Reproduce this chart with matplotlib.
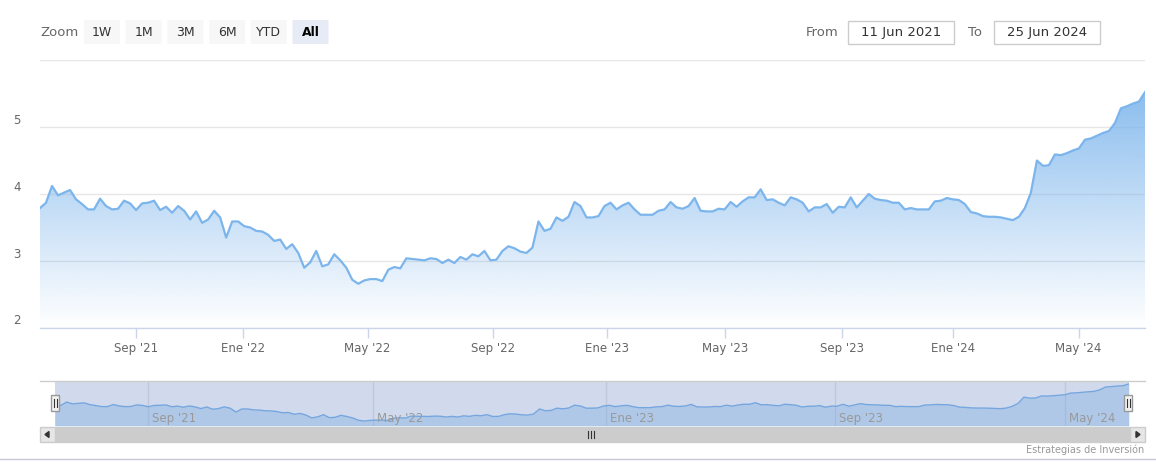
import matplotlib
matplotlib.use("Agg")
import matplotlib.pyplot as plt
import numpy as np
from matplotlib.patches import Rectangle, FancyBboxPatch, Polygon
from matplotlib.lines import Line2D
from matplotlib.transforms import blended_transform_factory, offset_copy

W, H = 1156, 465

# precio, muestras equiespaciadas sobre el eje ordinal (11 Jun 2021 -> 25 Jun 2024)
precio = [
    3.79, 3.87, 4.12, 3.98, 4.02, 4.06, 3.92, 3.85, 3.77, 3.77,
    3.93, 3.82, 3.77, 3.78, 3.90, 3.86, 3.76, 3.86, 3.87, 3.90,
    3.76, 3.81, 3.72, 3.82, 3.75, 3.62, 3.74, 3.57, 3.62, 3.75,
    3.65, 3.35, 3.59, 3.59, 3.52, 3.50, 3.45, 3.44, 3.39,
    3.30, 3.32, 3.18, 3.25, 3.12, 2.90, 2.98, 3.15, 2.92, 2.95,
    3.10, 3.01, 2.90, 2.72, 2.66, 2.71, 2.73, 2.73, 2.70, 2.87,
    2.91, 2.89, 3.04, 3.03, 3.02, 3.01, 3.04, 3.03, 2.97, 3.02,
    2.97, 3.06, 3.02, 3.10, 3.07, 3.15, 3.01,
    3.02, 3.15, 3.22, 3.19, 3.14, 3.12, 3.20, 3.59, 3.45, 3.48,
    3.65, 3.60, 3.66, 3.88, 3.82, 3.65, 3.65, 3.67, 3.82, 3.87,
    3.77, 3.83, 3.87, 3.77, 3.69, 3.69, 3.69, 3.75, 3.77, 3.88,
    3.80, 3.78, 3.82, 3.94, 3.75, 3.74, 3.74,
    3.78, 3.77, 3.88, 3.81, 3.89, 3.95, 3.95, 4.07, 3.91, 3.92,
    3.87, 3.83, 3.95, 3.92, 3.87, 3.74, 3.80, 3.80, 3.85, 3.72,
    3.81, 3.80, 3.95, 3.80, 3.90, 4.00, 3.93, 3.91, 3.90, 3.87,
    3.87, 3.77, 3.79, 3.77, 3.77, 3.77, 3.89, 3.90,
    3.94, 3.92, 3.91, 3.85, 3.73, 3.71, 3.67, 3.66, 3.66, 3.65,
    3.63, 3.61, 3.66, 3.79, 4.02, 4.50, 4.42, 4.43, 4.59, 4.58,
    4.61, 4.65, 4.68, 4.81, 4.83, 4.87, 4.91, 4.94, 5.06, 5.28,
    5.31, 5.35, 5.38, 5.52,
]

# eje ordinal: posición (en muestras) del primer dato de cada mes etiquetado
meses_lbl = ["Sep '21", "Ene '22", "May '22", "Sep '22", "Ene '23",
             "May '23", "Sep '23", "Ene '24", "May '24"]
meses_pos = [16.0, 33.8, 54.55, 75.45, 94.4, 114.05, 133.55, 152.1, 172.95]
nav_lbl = ["Sep '21", "May '22", "Ene '23", "Sep '23", "May '24"]
nav_pos = [16.0, 54.55, 94.4, 133.55, 172.95]
y_ticks = [2, 3, 4, 5, 6]
botones = ["1W", "1M", "3M", "6M", "YTD", "All"]
desde, hasta = "11 Jun 2021", "25 Jun 2024"

BLUE = "#7cb5ec"
GRID = "#e6e6e6"
AXIS = "#ccd6eb"


def fx(x):
    return x / W


def fy(y):
    return 1 - y / H


def rect(x, y, w, h, **kw):
    fig.add_artist(Rectangle((fx(x), fy(y + h)), w / W, h / H,
                             transform=fig.transFigure, **kw))


plt.rcParams["font.family"] = ["DejaVu Sans"]
fig = plt.figure(figsize=(W / 100, H / 100), dpi=100)

x = np.arange(len(precio))
n = len(precio) - 1

# ---- gráfico principal ----
ax = fig.add_axes([fx(40), fy(328), 1105 / W, 268 / H])
ax.set_facecolor("none")
poly = ax.fill_between(x, precio, 2, color="none", lw=0)
rgb = matplotlib.colors.to_rgb(BLUE)
grad = np.zeros((256, 1, 4))
grad[..., :3] = rgb
grad[:, 0, 3] = np.linspace(1, 0, 256)
im = ax.imshow(grad, extent=(0, n, 2, 6), aspect="auto", origin="upper", zorder=1)
im.set_clip_path(poly.get_paths()[0], transform=ax.transData)
ax.plot(x, precio, color=BLUE, lw=1.6, zorder=3, solid_joinstyle="round")
ax.set_xlim(0, n)
ax.set_ylim(2, 6)
ax.set_yticks(y_ticks)
ax.yaxis.grid(True, color=GRID, lw=1)
ax.set_axisbelow(True)
ax.tick_params(axis="y", length=0, labelleft=False)
ax.set_xticks(meses_pos, meses_lbl)
ax.tick_params(axis="x", length=7.2, width=1, color=AXIS, labelcolor="#666666",
               labelsize=8.5, pad=3)
for s in ["top", "left", "right"]:
    ax.spines[s].set_visible(False)
ax.spines["bottom"].set_color(AXIS)
ax.spines["bottom"].set_linewidth(1)
ytr = offset_copy(blended_transform_factory(fig.transFigure, ax.transData),
                  fig=fig, y=7, units="dots")
for v in y_ticks[:-1]:
    ax.text(fx(17), v, str(v), transform=ytr, ha="center", va="center",
            fontsize=8.5, color="#666666")

# ---- navegador ----
nav = fig.add_axes([fx(55), fy(426), 1074 / W, 45 / H])
nav.set_facecolor("none")
lo, hi = min(precio), max(precio)
nav.set_xlim(0, n)
nav.set_ylim(lo - 0.38, hi + 0.22)
for p in nav_pos:
    nav.axvline(p, color=GRID, lw=1, zorder=0)
nav.fill_between(x, precio, lo - 0.38, color=BLUE, alpha=0.35, lw=0, zorder=1)
nav.plot(x, precio, color=BLUE, lw=1, zorder=2)
nav.axvspan(0, n, color=(102 / 255, 133 / 255, 194 / 255, 0.3), lw=0, zorder=3)
nav.set_xticks([])
nav.set_yticks([])
for s in nav.spines.values():
    s.set_visible(False)
ntr = offset_copy(blended_transform_factory(nav.transData, fig.transFigure),
                  fig=fig, x=4, units="dots")
for p, l in zip(nav_pos, nav_lbl):
    nav.text(p, fy(418), l, transform=ntr, ha="left", va="center",
             fontsize=8.5, color="#999999", zorder=5)
fig.add_artist(Line2D([fx(40), fx(1145)], [fy(381), fy(381)], color="#cccccc",
                      lw=1, transform=fig.transFigure))

# asas del navegador
for hx in [55, 1128]:
    rect(hx - 4, 395, 8, 16, facecolor="#f2f2f2", edgecolor="#999999", lw=1)
    for dx in [-1.5, 1.5]:
        fig.add_artist(Line2D([fx(hx + dx), fx(hx + dx)], [fy(399), fy(407)],
                              color="#333333", lw=0.8, transform=fig.transFigure))

# barra de desplazamiento
rect(40, 427, 1105, 15, facecolor="#f2f2f2", edgecolor="none")
rect(55, 427, 1074, 15, facecolor="#cccccc", edgecolor="#cccccc", lw=1)
rect(40, 427, 15, 15, facecolor="#e6e6e6", edgecolor="#cccccc", lw=1)
rect(1130, 427, 15, 15, facecolor="#e6e6e6", edgecolor="#cccccc", lw=1)
fig.add_artist(Polygon([(fx(45), fy(434.5)), (fx(49), fy(431.5)), (fx(49), fy(437.5))],
                       closed=True, color="#333333", transform=fig.transFigure))
fig.add_artist(Polygon([(fx(1140), fy(434.5)), (fx(1136), fy(431.5)), (fx(1136), fy(437.5))],
                       closed=True, color="#333333", transform=fig.transFigure))
for dx in [-3, 0, 3]:
    fig.add_artist(Line2D([fx(591 + dx), fx(591 + dx)], [fy(431), fy(438)],
                          color="#333333", lw=0.8, transform=fig.transFigure))

# ---- selector de rango ----
fig.text(fx(40), fy(32), "Zoom", fontsize=9.5, color="#666666", ha="left", va="center")
for i, b in enumerate(botones):
    bx = 84 + i * 41.7
    sel = b == "All"
    fig.add_artist(FancyBboxPatch((fx(bx), fy(44)), 36 / W, 24 / H,
                                  boxstyle="round,pad=0,rounding_size=0.002",
                                  facecolor="#e6ebf5" if sel else "#f7f7f7",
                                  edgecolor="none", transform=fig.transFigure))
    fig.text(fx(bx + 18), fy(32), b, fontsize=9, ha="center", va="center",
             color="#000000" if sel else "#333333",
             fontweight="bold" if sel else "normal")

fig.text(fx(806), fy(32), "From", fontsize=9.5, color="#666666", ha="left", va="center")
fig.text(fx(968), fy(32), "To", fontsize=9.5, color="#666666", ha="left", va="center")
for bx, t in [(848, desde), (994, hasta)]:
    rect(bx, 21, 106, 23, facecolor="white", edgecolor="#cccccc", lw=1)
    fig.text(fx(bx + 53), fy(32.5), t, fontsize=9.5, color="#333333",
             ha="center", va="center")

# créditos
fig.text(fx(1144), fy(450), "Estrategias de Inversión", fontsize=7, color="#999999",
         ha="right", va="center")
fig.add_artist(Line2D([0, 1], [fy(459), fy(459)], color="#c8c8d8", lw=1,
                      transform=fig.transFigure))

fig.savefig("out.png", dpi=100)
